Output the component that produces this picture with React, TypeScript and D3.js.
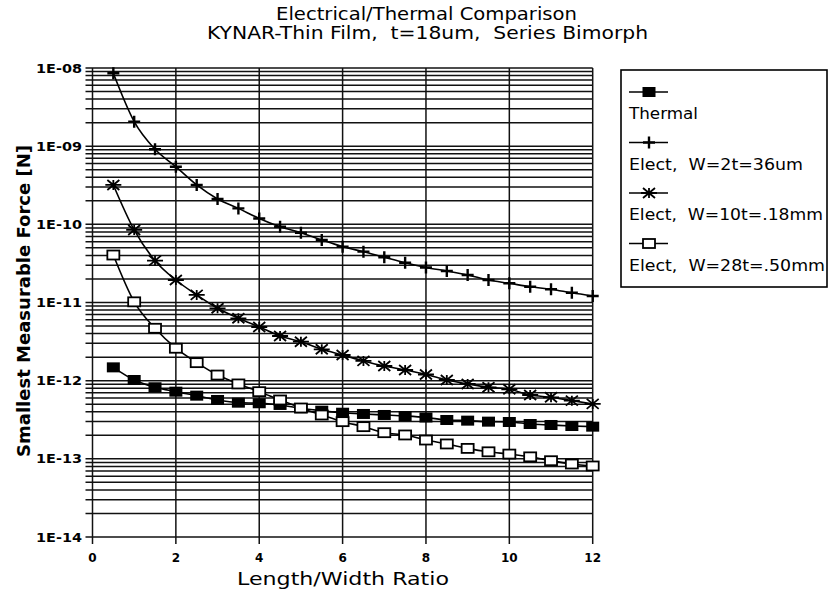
import { useEffect, useRef } from 'react';
import * as d3 from 'd3';

// Length/Width ratio (x) shared by every series
const ratios = [0.5, 1, 1.5, 2, 2.5, 3, 3.5, 4, 4.5, 5, 5.5, 6, 6.5, 7, 7.5, 8, 8.5, 9, 9.5, 10, 10.5, 11, 11.5, 12];

const thermal = [1.48e-12, 1.02e-12, 8.23e-13, 7.23e-13, 6.43e-13, 5.66e-13, 5.23e-13, 5.14e-13, 4.89e-13, 4.43e-13, 4.13e-13, 3.89e-13,
  3.75e-13, 3.64e-13, 3.53e-13, 3.38e-13, 3.14e-13, 3.08e-13, 2.99e-13, 2.96e-13, 2.79e-13, 2.71e-13, 2.63e-13, 2.58e-13];
const elect36um = [8.55e-9, 2.06e-9, 9.12e-10, 5.46e-10, 3.19e-10, 2.11e-10, 1.6e-10, 1.19e-10, 9.33e-11, 7.82e-11, 6.31e-11, 5.18e-11,
  4.47e-11, 3.79e-11, 3.23e-11, 2.81e-11, 2.53e-11, 2.25e-11, 1.94e-11, 1.76e-11, 1.59e-11, 1.48e-11, 1.33e-11, 1.21e-11];
const elect18mm = [3.19e-10, 8.47e-11, 3.43e-11, 1.94e-11, 1.25e-11, 8.43e-12, 6.28e-12, 4.86e-12, 3.73e-12, 3.15e-12, 2.52e-12, 2.13e-12,
  1.79e-12, 1.54e-12, 1.37e-12, 1.2e-12, 1.02e-12, 9.08e-13, 8.23e-13, 7.76e-13, 6.56e-13, 6.13e-13, 5.55e-13, 5.04e-13];
const elect50mm = [4.05e-11, 1.02e-11, 4.68e-12, 2.6e-12, 1.7e-12, 1.18e-12, 9.08e-13, 7.23e-13, 5.66e-13, 4.47e-13, 3.64e-13, 2.99e-13,
  2.58e-13, 2.16e-13, 2.02e-13, 1.74e-13, 1.55e-13, 1.36e-13, 1.23e-13, 1.15e-13, 1.06e-13, 9.46e-14, 8.59e-14, 8.1e-14];

const xTicks = [0, 2, 4, 6, 8, 10, 12];
const yTicks = [1e-8, 1e-9, 1e-10, 1e-11, 1e-12, 1e-13, 1e-14];
const yTickLabels = ['1E-08', '1E-09', '1E-10', '1E-11', '1E-12', '1E-13', '1E-14'];

const seriesNames = ['Thermal', 'Elect,  W=2t=36um', 'Elect,  W=10t=.18mm', 'Elect,  W=28t=.50mm'];
const seriesMarkers = ['filled', 'plus', 'star', 'open'];
// widths the legend texts take in the original
const legendTextWidths = [69, 174, 194, 196];

const FONT = '"DejaVu Sans", sans-serif';

type Marker = 'filled' | 'plus' | 'star' | 'open';

function drawMarker(g: d3.Selection<SVGGElement, unknown, null, undefined>, kind: Marker, cx: number, cy: number) {
  const m = g.append('g').attr('transform', `translate(${cx},${cy})`);
  if (kind === 'filled') {
    m.append('rect').attr('x', -6.5).attr('y', -5).attr('width', 13).attr('height', 10).attr('fill', '#000');
  } else if (kind === 'open') {
    m.append('rect').attr('x', -6).attr('y', -4.5).attr('width', 12).attr('height', 9)
      .attr('fill', '#fff').attr('stroke', '#000').attr('stroke-width', 1.8);
  } else if (kind === 'plus') {
    m.append('path').attr('d', 'M-6,0H6M0,-6V6').attr('stroke', '#000').attr('stroke-width', 2.4);
  } else {
    m.append('path').attr('d', 'M-8,0H8M-6,-5L6,5M-6,5L6,-5M0,-5V5')
      .attr('stroke', '#000').attr('stroke-width', 1.8);
  }
}

export default function App() {
  const svgRef = useRef<SVGSVGElement>(null);
  const width = 829;
  const height = 595;

  useEffect(() => {
    if (!svgRef.current) return;
    const svg = d3.select(svgRef.current);
    svg.selectAll('*').remove();

    const x = d3.scaleLinear().domain([0, 12]).range([92.5, 592.7]);
    const y = d3.scaleLog().domain([1e-14, 1e-8]).range([537, 68]);

    const g = svg.append('g');

    // horizontal log grid (every 1..9 of each decade)
    const gridVals: number[] = [];
    for (let e = -14; e < -8; e++) {
      for (let m = 1; m <= 9; m++) gridVals.push(m * Math.pow(10, e));
    }
    gridVals.push(1e-8);
    g.selectAll('line.hgrid')
      .data(gridVals)
      .join('line')
      .attr('class', 'hgrid')
      .attr('x1', x(0) - 7)
      .attr('x2', x(12))
      .attr('y1', d => y(d))
      .attr('y2', d => y(d))
      .attr('stroke', '#111')
      .attr('stroke-width', 1.5);

    // vertical grid
    g.selectAll('line.vgrid')
      .data(xTicks)
      .join('line')
      .attr('class', 'vgrid')
      .attr('x1', d => x(d))
      .attr('x2', d => x(d))
      .attr('y1', y(1e-8))
      .attr('y2', y(1e-14) + 7)
      .attr('stroke', '#111')
      .attr('stroke-width', 1.5);

    // tick labels
    g.selectAll('text.xt')
      .data(xTicks)
      .join('text')
      .attr('class', 'xt')
      .attr('x', d => x(d))
      .attr('y', y(1e-14) + 25)
      .attr('text-anchor', 'middle')
      .attr('font-family', FONT)
      .attr('font-weight', 'bold')
      .attr('font-size', 12)
      .text(d => String(d));

    g.selectAll('text.yt')
      .data(yTicks)
      .join('text')
      .attr('class', 'yt')
      .attr('x', 36)
      .attr('y', d => y(d) + 4.5)
      .attr('font-family', FONT)
      .attr('font-weight', 'bold')
      .attr('font-size', 12.5)
      .attr('textLength', 46)
      .attr('lengthAdjust', 'spacingAndGlyphs')
      .text((_, i) => yTickLabels[i]);

    // series
    const all = [thermal, elect36um, elect18mm, elect50mm];
    const line = d3.line<number>()
      .x((_, i) => x(ratios[i]))
      .y(d => y(d))
      .curve(d3.curveMonotoneX);

    all.forEach(vals => {
      g.append('path')
        .attr('d', line(vals))
        .attr('fill', 'none')
        .attr('stroke', '#000')
        .attr('stroke-width', 1.6);
    });
    all.forEach((vals, si) => {
      vals.forEach((v, i) => drawMarker(g, seriesMarkers[si] as Marker, x(ratios[i]), y(v)));
    });

    // titles
    svg.append('text')
      .attr('x', 276).attr('y', 20)
      .attr('font-family', FONT).attr('font-size', 17)
      .attr('textLength', 301).attr('lengthAdjust', 'spacingAndGlyphs')
      .text('Electrical/Thermal Comparison');
    svg.append('text')
      .attr('x', 207).attr('y', 39)
      .attr('font-family', FONT).attr('font-size', 17)
      .attr('textLength', 441).attr('lengthAdjust', 'spacingAndGlyphs')
      .style('white-space', 'pre')
      .text('KYNAR-Thin Film,  t=18um,  Series Bimorph');

    svg.append('text')
      .attr('x', 237).attr('y', 585)
      .attr('font-family', FONT).attr('font-size', 18)
      .attr('textLength', 212).attr('lengthAdjust', 'spacingAndGlyphs')
      .text('Length/Width Ratio');

    svg.append('text')
      .attr('transform', 'translate(30,457) rotate(-90)')
      .attr('font-family', FONT).attr('font-size', 17).attr('font-weight', 'bold')
      .attr('textLength', 312).attr('lengthAdjust', 'spacingAndGlyphs')
      .text('Smallest Measurable Force [N]');

    // legend
    const lg = svg.append('g');
    lg.append('rect')
      .attr('x', 621).attr('y', 70).attr('width', 206).attr('height', 217)
      .attr('fill', '#fff').attr('stroke', '#000').attr('stroke-width', 1.6);
    seriesNames.forEach((name, i) => {
      const ly = 92 + i * 50.5;
      lg.append('line')
        .attr('x1', 629).attr('x2', 668).attr('y1', ly).attr('y2', ly)
        .attr('stroke', '#000').attr('stroke-width', 1.6);
      drawMarker(lg, seriesMarkers[i] as Marker, 649, ly);
      lg.append('text')
        .attr('x', 629).attr('y', ly + 27)
        .attr('font-family', FONT).attr('font-size', 15.5)
        .attr('textLength', legendTextWidths[i]).attr('lengthAdjust', 'spacingAndGlyphs')
        .style('white-space', 'pre')
        .text(name);
    });
  }, []);

  return (
    <svg
      ref={svgRef}
      width={width}
      height={height}
      style={{ position: 'absolute', left: 0, top: 0, background: '#fff' }}
    />
  );
}
